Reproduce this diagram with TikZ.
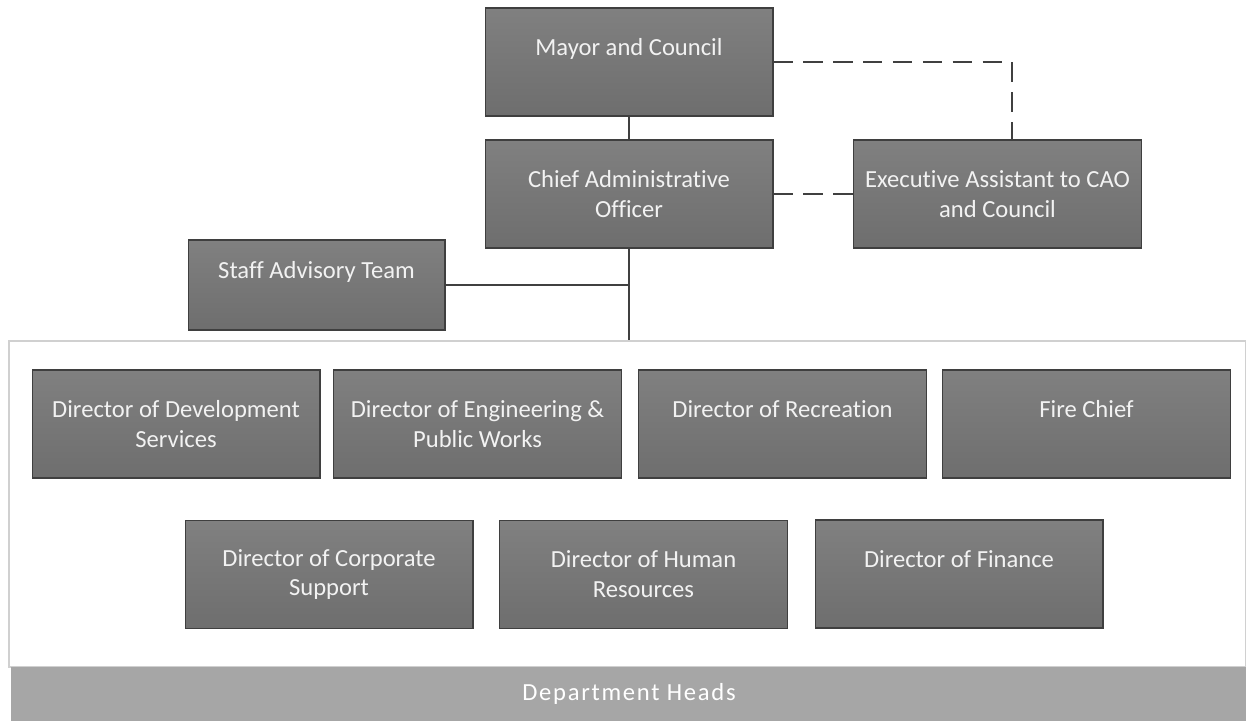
\documentclass[tikz,border=0pt]{standalone}
\usepackage{fontspec}
\setmainfont{Carlito}[Ligatures=NoCommon]
\usepackage{xcolor}
\usetikzlibrary{positioning,calc}

\definecolor{boxtop}{HTML}{808080}
\definecolor{boxbot}{HTML}{6E6E6E}
\definecolor{boxline}{HTML}{3F3F3F}
\definecolor{wire}{HTML}{404040}
\definecolor{framegray}{HTML}{D0D0D0}
\definecolor{bargray}{HTML}{A6A6A6}

\tikzset{
    unit/.style={draw=boxline, line width=0.6pt, top color=boxtop, bottom color=boxbot,
        text=white!95!black, align=center, inner sep=0pt,
        minimum width=5.76cm, minimum height=2.16cm,
        font=\fontsize{14}{17}\selectfont},
    link/.style={draw=wire, line width=1.2pt},
    dotlink/.style={link, dash pattern=on 11pt off 6pt}
}

\begin{document}
\begin{tikzpicture}[x=0.02cm, y=-0.02cm]
    \useasboundingbox (0,0) rectangle (1246,721);

    % Department heads frame and caption bar
    \node[draw=framegray, line width=0.8pt, minimum width=24.74cm, minimum height=6.52cm, inner sep=0pt] (frame) at (627.5,504) {};
    \node[fill=bargray, minimum width=24.74cm, minimum height=1.08cm, inner sep=0pt,
          text=white, font=\fontsize{14}{17}\selectfont\addfontfeature{LetterSpace=7}] (bar) at (629,694) {Department Heads};

    % Top of the chart
    \node[unit] (mayor) at (629,62) {Mayor and Council\\ \mbox{}};
    \node[unit] (cao) at (629,194) {Chief Administrative\\Officer};
    \node[unit] (ea) at (997.5,194) {Executive Assistant to CAO\\and Council};
    \node[unit, minimum width=5.14cm, minimum height=1.8cm] (staff) at (316.5,285) {Staff Advisory Team\\ \mbox{}};

    % Department heads, first row
    \node[unit] (dev) at (176,424) {Director of Development\\Services};
    \node[unit] (eng) at (477.5,424) {Director of Engineering \&\\Public Works};
    \node[unit] (rec) at (782.5,424) {Director of Recreation\\ \mbox{}};
    \node[unit] (fire) at (1086.5,424) {Fire Chief\\ \mbox{}};

    % Department heads, second row
    \node[unit] (corp) at (329,574.5) {Director of Corporate\\Support};
    \node[unit] (hr) at (643.5,574.5) {Director of Human\\Resources};
    \node[unit] (fin) at (959,574) {Director of Finance\\ \mbox{}};

    % Reporting lines
    \coordinate (drop) at (cao.south |- frame.north);
    \coordinate (tee) at (cao.south |- staff.east);
    \draw[link] (mayor) -- (cao);
    \draw[link] (cao.south) -- (drop);
    \draw[link] (staff.east) -- (tee);

    % Support lines (dashed)
    \coordinate (bend) at (1012,62);
    \draw[dotlink] (mayor.east) -- (bend) -- (bend |- ea.north);
    \draw[dotlink] (cao.east) -- (ea.west);
\end{tikzpicture}
\end{document}
